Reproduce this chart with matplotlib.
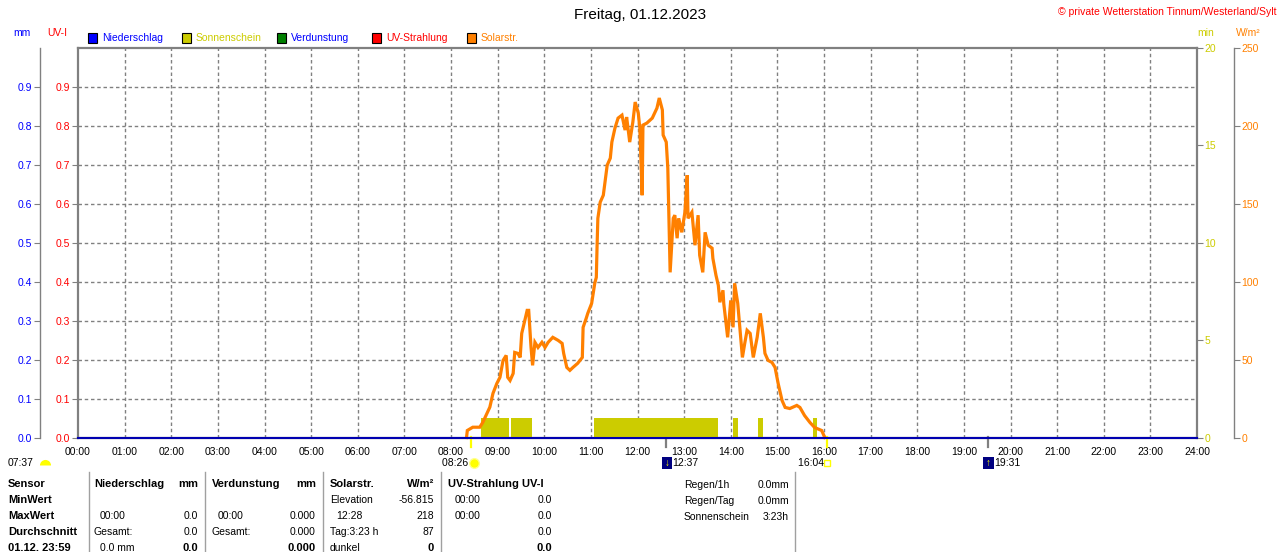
import matplotlib
matplotlib.use("Agg")
import matplotlib.pyplot as plt
from matplotlib.patches import Rectangle
from matplotlib.transforms import blended_transform_factory

plt.rcParams['font.family'] = ['Liberation Sans', 'DejaVu Sans']

W, H = 1280, 552

# ---- data ----
solar_time = ["08:20", "08:21", "08:28", "08:37", "08:41", "08:50", "08:54", "08:59",
              "09:03", "09:07", "09:11", "09:13", "09:16", "09:20", "09:22", "09:26",
              "09:29", "09:31", "09:35", "09:38", "09:40", "09:43", "09:45", "09:48",
              "09:52", "09:57", "10:01", "10:05", "10:11", "10:18", "10:23", "10:25",
              "10:29", "10:33", "10:37", "10:43", "10:49", "10:50", "10:54", "10:56",
              "11:01", "11:03", "11:05", "11:07", "11:08", "11:09", "11:12", "11:16",
              "11:21", "11:25", "11:27", "11:31", "11:35", "11:40", "11:44", "11:46",
              "11:50", "11:54", "11:57", "12:01", "12:03", "12:06", "12:07", "12:12",
              "12:19", "12:25", "12:28", "12:32", "12:33", "12:37", "12:39", "12:42",
              "12:46", "12:48", "12:51", "12:53", "12:57", "13:01", "13:04", "13:05",
              "13:10", "13:14", "13:18", "13:20", "13:24", "13:27", "13:31", "13:36",
              "13:37", "13:41", "13:44", "13:46", "13:50", "13:51", "13:56", "14:00",
              "14:03", "14:05", "14:09", "14:15", "14:18", "14:21", "14:25", "14:29",
              "14:34", "14:38", "14:42", "14:44", "14:48", "14:53", "14:57", "15:01",
              "15:06", "15:10", "15:16", "15:25", "15:29", "15:35", "15:42", "15:48",
              "15:57", "16:01"]
solar_wm2 = [0, 4.5, 6.6, 6.6, 9.8, 19.5, 28.3, 34.7,
             38.6, 49.5, 52.7, 38.6, 36.6, 41.1, 54.6, 54.0,
             51.4, 66.8, 75.2, 81.6, 81.6, 57.8, 46.3, 61.1,
             57.8, 61.1, 57.8, 61.1, 64.3, 62.3, 60.4, 54.0,
             45.0, 43.1, 45.0, 47.6, 51.4, 70.7, 76.5, 79.7,
             86.1, 92.5, 99.0, 102.8, 123.4, 140.7, 151.0, 155.5,
             174.8, 179.3, 189.6, 198.6, 205.0, 206.9, 197.3, 205.7,
             189.6, 202.4, 215.3, 208.2, 198.6, 155.5, 200.5, 201.8,
             205.0, 211.4, 217.9, 210.2, 194.1, 189.6, 172.9, 106.0,
             140.7, 142.7, 127.9, 140.7, 131.7, 144.6, 168.4, 140.7,
             144.6, 123.4, 142.7, 117.0, 106.0, 131.7, 123.4, 121.5,
             115.0, 104.1, 97.7, 86.8, 94.5, 86.1, 64.3, 88.0,
             70.7, 99.0, 86.1, 51.4, 60.4, 68.8, 66.8, 51.4,
             64.3, 79.7, 64.3, 54.0, 49.5, 48.2, 45.0, 34.7,
             23.8, 19.3, 18.6, 20.6, 19.3, 14.1, 9.6, 6.4,
             4.5, 0]

sun_start = ["08:38", "09:17", "11:04", "14:03", "14:35", "15:46"]
sun_end = ["09:15", "09:44", "13:43", "14:09", "14:42", "15:51"]
sun_min = [1.0, 1.0, 1.0, 1.0, 1.0, 1.0]

rain_time = ["00:00", "24:00"]
rain_mm = [0.0, 0.0]

hour_labels = ["%02d:00" % h for h in range(25)]
uv_ticks = [0.0, 0.1, 0.2, 0.3, 0.4, 0.5, 0.6, 0.7, 0.8, 0.9]
min_ticks = [0, 5, 10, 15, 20]
wm2_ticks = [0, 50, 100, 150, 200, 250]

legend_names = ["Niederschlag", "Sonnenschein", "Verdunstung", "UV-Strahlung", "Solarstr."]
legend_colors = ["#0000FF", "#CCCC00", "#008000", "#FF0000", "#FF8000"]
legend_text_colors = ["#0000FF", "#CCCC00", "#0000FF", "#FF0000", "#FF8000"]

table_sensor = ["Sensor", "MinWert", "MaxWert", "Durchschnitt", "01.12. 23:59"]
rain_col = [("Niederschlag", "mm"), ("", ""), ("00:00", "0.0"), ("Gesamt:", "0.0"), ("0.0 mm", "0.0")]
evap_col = [("Verdunstung", "mm"), ("", ""), ("00:00", "0.000"), ("Gesamt:", "0.000"), ("", "0.000")]
solar_col = [("Solarstr.", "W/m²"), ("Elevation", "-56.815"), ("12:28", "218"),
             ("Tag:3:23 h", "87"), ("dunkel", "0")]
uv_col = [("UV-Strahlung UV-I", ""), ("00:00", "0.0"), ("00:00", "0.0"), ("", "0.0"), ("", "0.0")]
summary = [("Regen/1h", "0.0mm"), ("Regen/Tag", "0.0mm"), ("Sonnenschein", "3:23h")]

sun_events = [("08:26", "rise"), ("16:04", "set")]
moon_events = [("12:37", "down"), ("19:31", "up")]


def hours(s):
    h, m = s.split(":")
    return int(h) + int(m) / 60.0


def fx(px):
    return px / W


def fy(py):
    return 1 - py / H


GRAY = "#808080"
FS = 7.5

fig = plt.figure(figsize=(W / 100, H / 100), dpi=100)
fig.patch.set_facecolor("white")

left, right, top, bottom = 78, 1197, 48, 437.5
ax = fig.add_axes([fx(left), fy(bottom), fx(right - left), (bottom - top) / H])
ax.set_xlim(0, 24)
ax.set_ylim(0, 1.0)
for s in ax.spines.values():
    s.set_color(GRAY)
    s.set_linewidth(1.6)
ax.set_xticks(range(25))
ax.set_xticklabels(hour_labels, fontsize=FS)
ax.tick_params(axis="x", length=0, pad=6.5)
ax.set_yticks(uv_ticks)
ax.set_yticklabels(["%.1f" % v for v in uv_ticks], fontsize=FS, color="#FF0000")
ax.tick_params(axis="y", length=4.5, color=GRAY, pad=1)
for h in range(1, 24):
    ax.axvline(h, color=GRAY, lw=1.0, ls=(0, (2.5, 2)), zorder=0)
for v in uv_ticks[1:]:
    ax.axhline(v, color=GRAY, lw=1.0, ls=(0, (2.5, 2)), zorder=0)

# sunshine minutes (right axis at frame)
ax_min = ax.twinx()
ax_min.set_ylim(0, 20)
ax_min.set_yticks(min_ticks)
ax_min.set_yticklabels([str(v) for v in min_ticks], fontsize=FS, color="#CCCC00")
ax_min.tick_params(axis="y", length=4.5, color=GRAY, pad=1)
for s in ax_min.spines.values():
    s.set_visible(False)
for s0, s1, m in zip(sun_start, sun_end, sun_min):
    ax_min.bar(hours(s0), m, width=hours(s1) - hours(s0), align="edge",
               color="#CCCC00", edgecolor="none", zorder=2)

# solar radiation
ax_w = ax.twinx()
ax_w.set_ylim(0, 250)
ax_w.spines["right"].set_position(("axes", (1234 - left) / (right - left)))
for k in ["left", "top", "bottom"]:
    ax_w.spines[k].set_visible(False)
ax_w.spines["right"].set_color(GRAY)
ax_w.spines["right"].set_linewidth(1.0)
ax_w.set_yticks(wm2_ticks)
ax_w.set_yticklabels([str(v) for v in wm2_ticks], fontsize=FS, color="#FF8000")
ax_w.tick_params(axis="y", length=4.5, color=GRAY, pad=1)
ax_w.plot([hours(t) for t in solar_time], solar_wm2, color="#FF8000", lw=2.3,
          solid_joinstyle="miter", zorder=3, clip_on=False)

# rain (mm, outer left axis)
ax_mm = ax.twinx()
ax_mm.set_ylim(0, 1.0)
ax_mm.yaxis.tick_left()
ax_mm.yaxis.set_label_position("left")
ax_mm.spines["left"].set_position(("axes", (40 - left) / (right - left)))
for k in ["right", "top", "bottom"]:
    ax_mm.spines[k].set_visible(False)
ax_mm.spines["left"].set_color(GRAY)
ax_mm.spines["left"].set_linewidth(1.0)
ax_mm.set_yticks(uv_ticks)
ax_mm.set_yticklabels(["%.1f" % v for v in uv_ticks], fontsize=FS, color="#0000FF")
ax_mm.tick_params(axis="y", length=4.5, color=GRAY, pad=1)
ax_mm.plot([hours(t) for t in rain_time], rain_mm, color="#0000B0", lw=1.5,
           zorder=4, clip_on=False)

# ---- header texts ----
fig.text(0.5, fy(15), "Freitag, 01.12.2023", fontsize=11, ha="center", va="center")
fig.text(fx(1276), fy(12), "© private Wetterstation Tinnum/Westerland/Sylt", fontsize=FS,
         color="#FF0000", ha="right", va="center")
fig.text(fx(22), fy(33), "mm", fontsize=FS, color="#0000FF", ha="center", va="center")
fig.text(fx(57), fy(33), "UV-I", fontsize=FS, color="#FF0000", ha="center", va="center")
fig.text(fx(1206), fy(33), "min", fontsize=FS, color="#CCCC00", ha="center", va="center")
fig.text(fx(1248), fy(33), "W/m²", fontsize=FS, color="#FF8000", ha="center", va="center")

sq_x = [88, 182, 277, 372, 467]
for x0, name, c, tc in zip(sq_x, legend_names, legend_colors, legend_text_colors):
    fig.patches.append(Rectangle((fx(x0), fy(43)), 9 / W, 10 / H, transform=fig.transFigure,
                                 facecolor=c, edgecolor="black", lw=0.8))
    fig.text(fx(x0 + 14), fy(38), name, fontsize=FS, color=tc, ha="left", va="center")

# ---- sun / moon markers under the time axis ----
bt = blended_transform_factory(ax.transData, fig.transFigure)
fig.text(fx(8), fy(463), "07:37", fontsize=FS, ha="left", va="center")
fig.add_artist(plt.Line2D([fx(45)], [fy(465)], transform=fig.transFigure, marker="o", ms=8,
                          fillstyle="top", markerfacecolor="#FFFF00",
                          markerfacecoloralt="none", markeredgecolor="none"))
for t, kind in sun_events:
    h = hours(t)
    ax.plot([h, h], [fy(437), fy(447)], transform=bt, color="#FFFF00", lw=1.6,
            clip_on=False, zorder=5)
    ax.text(h, fy(463), t + " ", transform=bt, fontsize=FS, ha="right", va="center")
    if kind == "rise":
        ax.plot([h + 0.05], [fy(463)], transform=bt, marker="o", ms=7, color="#FFFF00",
                markeredgecolor="#FFFF90", mew=1, clip_on=False)
    else:
        ax.plot([h], [fy(463)], transform=bt, marker="s", ms=4.5, fillstyle="none",
                markeredgecolor="#FFFF00", mew=1, clip_on=False)
for t, kind in moon_events:
    h = hours(t)
    ax.plot([h, h], [fy(437), fy(447)], transform=bt, color=GRAY, lw=1.6,
            clip_on=False, zorder=5)
    ax.add_patch(Rectangle((h - 0.1, fy(469)), 0.22, 12 / H, transform=bt,
                           facecolor="#000080", edgecolor="none", clip_on=False))
    ax.text(h + 0.01, fy(463), "↓" if kind == "down" else "↑", transform=bt,
            fontsize=7, color="#FFFF00", ha="center", va="center", fontweight="bold")
    ax.text(h + 0.13, fy(463), t, transform=bt, fontsize=FS, ha="left", va="center")

# ---- table below ----
row_y = [484, 500, 516, 532, 548]
for px in [88.5, 205, 323, 441, 795]:
    fig.add_artist(plt.Line2D([fx(px), fx(px)], [fy(472), 0], transform=fig.transFigure,
                              color="#A0A0A0", lw=1.0))

for y, s in zip(row_y, table_sensor):
    fig.text(fx(8), fy(y), s, fontsize=8, fontweight="bold", ha="left", va="center")


def column(rows, x_left, x_right, x_indent):
    for i, (y, (a, b)) in enumerate(zip(row_y, rows)):
        bold = i == 0 or i == 4
        plain = i == 0 or a.endswith(":") or a.startswith("Tag") or a in ("Elevation", "dunkel")
        xa = x_left if plain else x_indent
        if a:
            fig.text(fx(xa), fy(y), a, fontsize=8 if i == 0 else FS,
                     fontweight="bold" if i == 0 else "normal", ha="left", va="center")
        if b:
            fig.text(fx(x_right), fy(y), b, fontsize=8 if bold else FS,
                     fontweight="bold" if bold else "normal", ha="right", va="center")


column(rain_col, 94, 198, 100)
column(evap_col, 212, 316, 218)
column(solar_col, 330, 434, 336)
column(uv_col, 448, 552, 455)

for y, (a, b) in zip(row_y, summary):
    fig.text(fx(684), fy(y + 1), a, fontsize=FS, ha="left", va="center")
    fig.text(fx(789), fy(y + 1), b, fontsize=FS, ha="right", va="center")

fig.savefig("out.png", dpi=100)
